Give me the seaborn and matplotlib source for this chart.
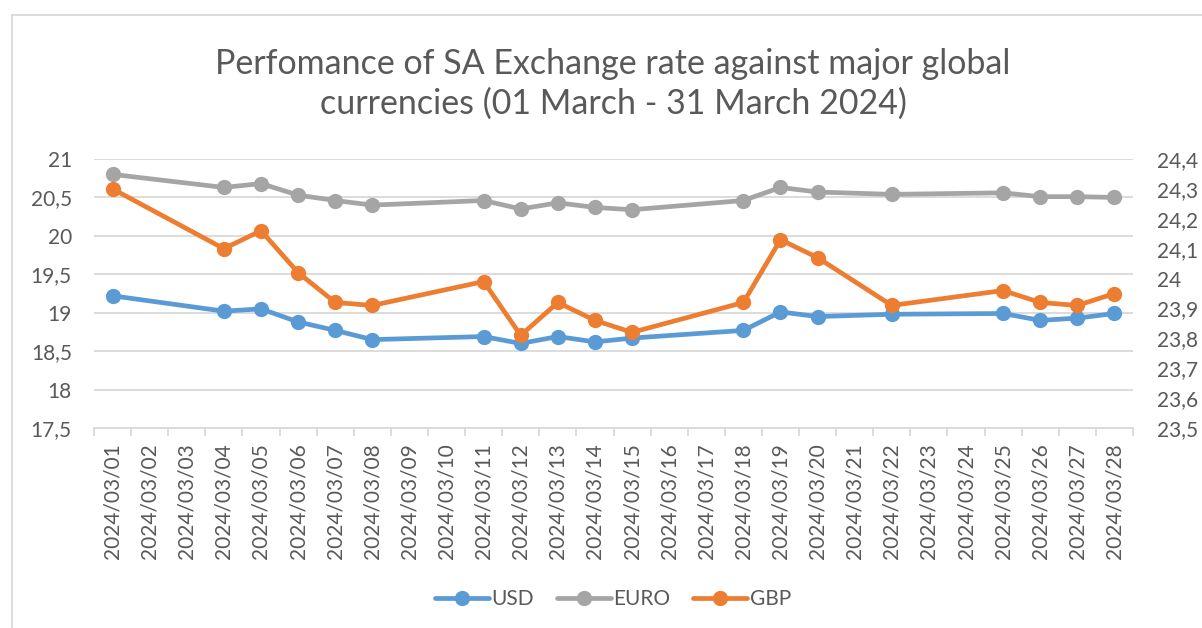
import pandas as pd
import matplotlib.pyplot as plt
import matplotlib.lines as mlines
import seaborn as sns

# Daily category axis (1 - 28 March 2024)
all_days = pd.date_range('2024-03-01', '2024-03-28')
tick_labels = [d.strftime('%Y/%m/%d') for d in all_days]

# Trading days with data
dates = ['2024-03-01', '2024-03-04', '2024-03-05', '2024-03-06', '2024-03-07',
         '2024-03-08', '2024-03-11', '2024-03-12', '2024-03-13', '2024-03-14',
         '2024-03-15', '2024-03-18', '2024-03-19', '2024-03-20', '2024-03-22',
         '2024-03-25', '2024-03-26', '2024-03-27', '2024-03-28']
usd = [19.22, 19.02, 19.05, 18.88, 18.77, 18.65, 18.69, 18.60, 18.69, 18.62,
       18.67, 18.77, 19.01, 18.95, 18.98, 18.99, 18.90, 18.93, 18.99]
euro = [20.80, 20.63, 20.68, 20.53, 20.46, 20.40, 20.46, 20.35, 20.43, 20.37,
        20.34, 20.46, 20.63, 20.57, 20.54, 20.56, 20.51, 20.51, 20.50]
gbp = [24.30, 24.10, 24.16, 24.02, 23.92, 23.91, 23.99, 23.81, 23.92, 23.86,
       23.82, 23.92, 24.13, 24.07, 23.91, 23.96, 23.92, 23.91, 23.95]

left_ticks = [17.5, 18, 18.5, 19, 19.5, 20, 20.5, 21]
right_ticks = [23.5, 23.6, 23.7, 23.8, 23.9, 24.0, 24.1, 24.2, 24.3, 24.4]

colors = {'USD': '#5B9BD5', 'EURO': '#A5A5A5', 'GBP': '#ED7D31'}

df = pd.DataFrame({'date': pd.to_datetime(dates), 'USD': usd, 'EURO': euro, 'GBP': gbp})
df['pos'] = (df['date'] - all_days[0]).dt.days

sns.set_theme(style='white')
plt.rcParams['font.family'] = ['Lato', 'DejaVu Sans']
text_color = '#595959'
grid_color = '#D9D9D9'

W, H = 1202, 628
fig = plt.figure(figsize=(W / 100, H / 100), dpi=100)
ax = fig.add_axes([94 / W, 1 - 428 / H, (1133 - 94) / W, (428 - 159) / H])
ax2 = ax.twinx()

line_kw = dict(marker='o', markersize=11, linewidth=3.4, markeredgewidth=0)
sns.lineplot(data=df, x='pos', y='USD', ax=ax, color=colors['USD'], label='USD', **line_kw)
sns.lineplot(data=df, x='pos', y='EURO', ax=ax, color=colors['EURO'], label='EURO', **line_kw)
sns.lineplot(data=df, x='pos', y='GBP', ax=ax2, color=colors['GBP'], label='GBP', **line_kw)

# axes ranges
ax.set_xlim(-0.5, len(all_days) - 0.5)
ax.set_ylim(17.5, 21)
ax2.set_ylim(23.5, 24.4)

# left axis
ax.set_yticks(left_ticks)
ax.set_yticklabels([f'{v:g}'.replace('.', ',') for v in left_ticks])
ax.yaxis.grid(True, color=grid_color, linewidth=1.3)
ax.set_axisbelow(True)
ax.tick_params(axis='y', length=0, pad=16, labelsize=15, labelcolor=text_color)

# right axis
ax2.set_yticks(right_ticks)
ax2.set_yticklabels([f'{v:g}'.replace('.', ',') for v in right_ticks])
ax2.tick_params(axis='y', length=0, pad=17, labelsize=15, labelcolor=text_color)
ax2.grid(False)

# x axis
ax.set_xticks(range(len(all_days)))
ax.set_xticklabels(tick_labels, rotation=90)
ax.set_xticks([i - 0.5 for i in range(len(all_days) + 1)], minor=True)
ax.tick_params(axis='x', which='major', length=0, pad=11, labelsize=15, labelcolor=text_color)
ax.tick_params(axis='x', which='minor', bottom=True, length=6, width=1.3, color=grid_color)
ax.set_xlabel('')
ax.set_ylabel('')
ax2.set_ylabel('')

for a in (ax, ax2):
    for s in a.spines.values():
        s.set_visible(False)
ax.spines['bottom'].set_visible(True)
ax.spines['bottom'].set_color(grid_color)
ax.spines['bottom'].set_linewidth(1.3)

# legend
h1, l1 = ax.get_legend_handles_labels()
h2, l2 = ax2.get_legend_handles_labels()
ax.get_legend().remove()
ax2.get_legend().remove()
fig.legend(h1 + h2, l1 + l2, loc='center', bbox_to_anchor=(0.51, 1 - 599 / H), ncol=3,
           frameon=False, fontsize=15, labelcolor=text_color, handlelength=2.6,
           handletextpad=0.1, columnspacing=1.1)

# title
fig.text(0.51, 1 - 84 / H, 'Perfomance of SA Exchange rate against major global\ncurrencies (01 March - 31 March 2024)',
         ha='center', va='center', fontsize=24.5, color=text_color, linespacing=1.3)

# chart border (left and top visible)
fig.add_artist(mlines.Line2D([12 / W, 12 / W], [0, 1 - 15 / H], color=grid_color, linewidth=1.3))
fig.add_artist(mlines.Line2D([12 / W, 1], [1 - 15 / H, 1 - 15 / H], color=grid_color, linewidth=1.3))

fig.savefig('out.png', dpi=100)
